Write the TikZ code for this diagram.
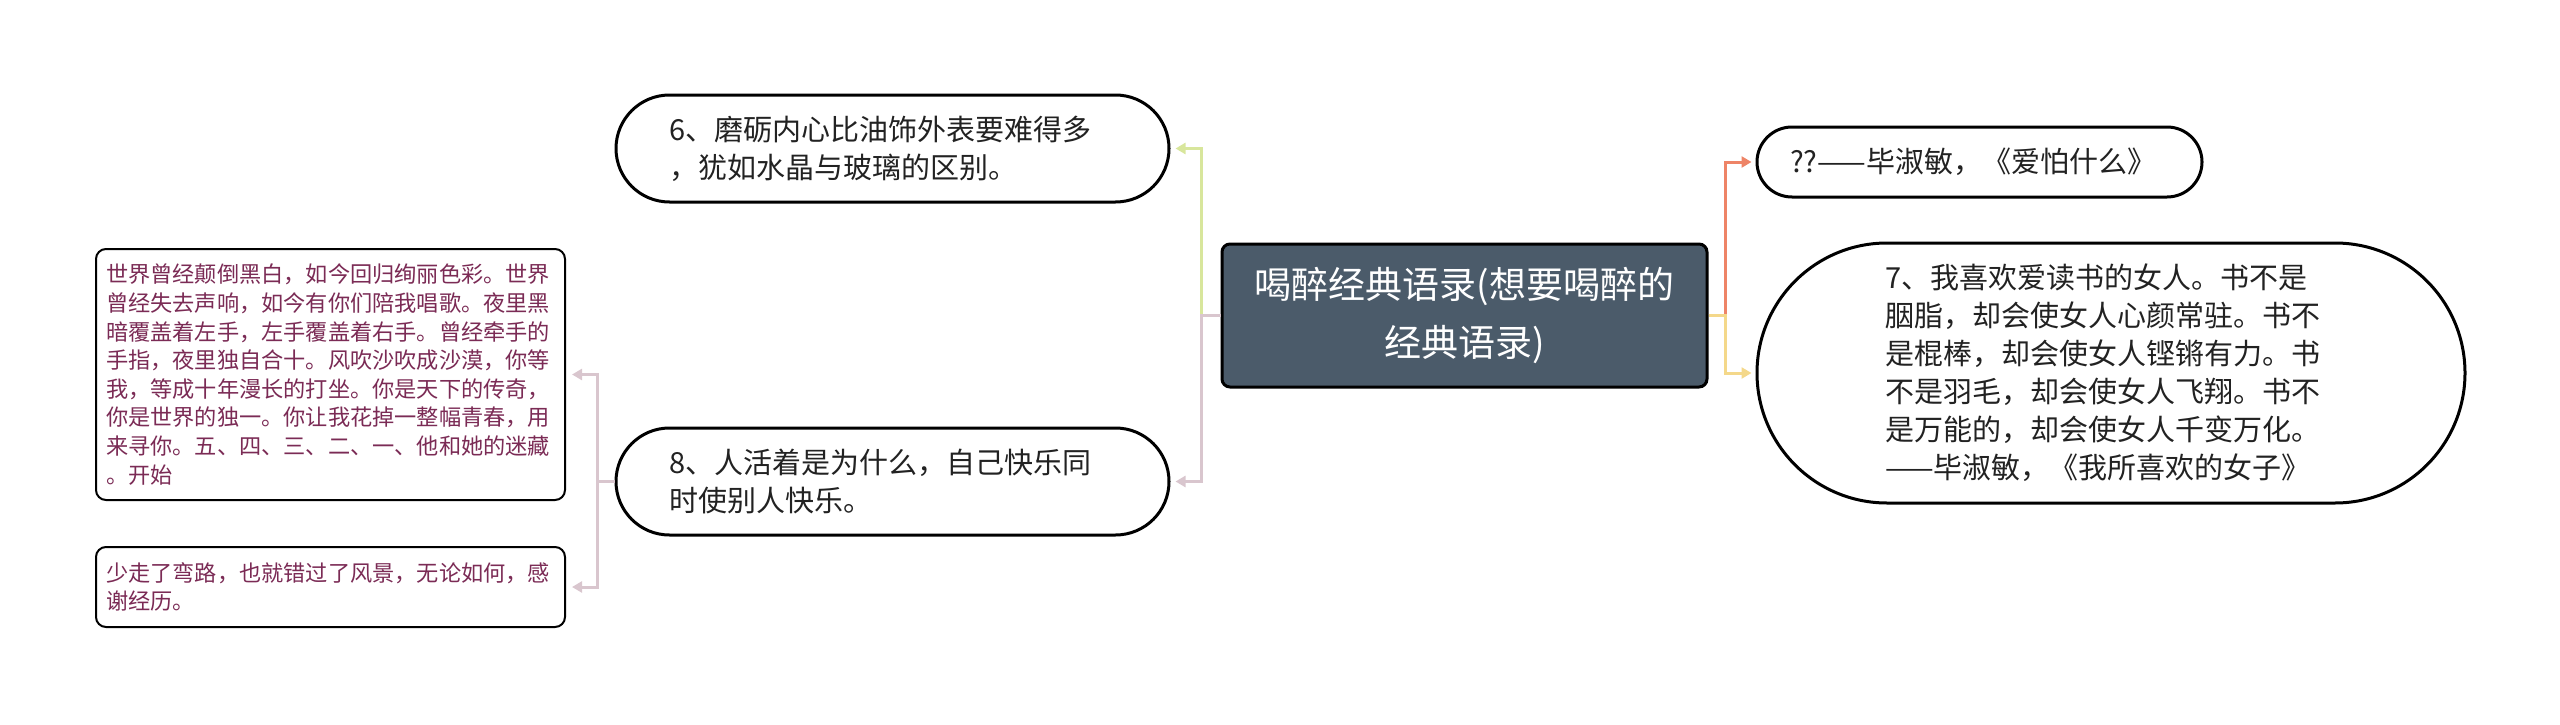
\documentclass[tikz,border=0pt]{standalone}
\usepackage{fontspec}
\newfontfamily\cjk{Noto Sans CJK SC}
\usetikzlibrary{arrows.meta}
\definecolor{centralfill}{HTML}{4B5B6A}
\definecolor{corange}{HTML}{EE8467}
\definecolor{cyellow}{HTML}{F4D88A}
\definecolor{cgreen}{HTML}{D8E69C}
\definecolor{cpink}{HTML}{D9C6CE}
\definecolor{maroon}{HTML}{7B2B55}
\definecolor{textdark}{HTML}{222222}
\begin{document}
\begin{tikzpicture}[x=1pt,y=-1pt,
  bubble/.style={draw=black, line width=3pt, fill=white, text=textdark, align=left,
    inner ysep=0pt, font=\cjk\fontsize{29}{38}\selectfont},
  leafbox/.style={draw=black, line width=2pt, fill=white, text=maroon, align=left,
    rounded corners=10pt, inner ysep=0pt, inner xsep=10pt, text width=449pt,
    minimum width=469pt, font=\cjk\fontsize{22.2}{28.6}\selectfont},
  conn/.style={line width=3pt, -{Triangle[length=10pt,width=11pt]}},
]
\useasboundingbox (0,0) rectangle (2560,725);

% central node
\node[draw=black, line width=3pt, fill=centralfill, rounded corners=8pt,
  minimum width=485pt, minimum height=143pt, text width=470pt, align=center,
  text=white, font=\cjk\fontsize{37}{58}\selectfont] (c) at (1464.5,315.5)
  {喝醉经典语录(想要喝醉的\\经典语录)};

% left-middle bubbles
\node[bubble, rounded corners=53.5pt, minimum width=553pt, minimum height=107pt,
  inner xsep=53pt, text width=447pt] (n6) at (892.5,148.5)
  {6、磨砺内心比油饰外表要难得多\\，犹如水晶与玻璃的区别。};
\node[bubble, rounded corners=53.5pt, minimum width=553pt, minimum height=107pt,
  inner xsep=53pt, text width=447pt] (n8) at (892.5,481.5)
  {8、人活着是为什么，自己快乐同\\时使别人快乐。};

% right bubbles
\node[bubble, rounded corners=35pt, minimum width=445pt, minimum height=70pt,
  inner xsep=33pt, text width=379pt] (nq) at (1979.5,162)
  {??——毕淑敏，《爱怕什么》};
\node[bubble, rounded corners=130pt, minimum width=708pt, minimum height=260pt,
  inner xsep=128pt, text width=452pt] (n7) at (2111,373)
  {7、我喜欢爱读书的女人。书不是\\胭脂，却会使女人心颜常驻。书不\\是棍棒，却会使女人铿锵有力。书\\不是羽毛，却会使女人飞翔。书不\\是万能的，却会使女人千变万化。\\——毕淑敏，《我所喜欢的女子》};

% left leaf boxes
\node[leafbox, minimum height=251pt] (b1) at (330.5,374.5)
  {世界曾经颠倒黑白，如今回归绚丽色彩。世界\\曾经失去声响，如今有你们陪我唱歌。夜里黑\\暗覆盖着左手，左手覆盖着右手。曾经牵手的\\手指，夜里独自合十。风吹沙吹成沙漠，你等\\我，等成十年漫长的打坐。你是天下的传奇，\\你是世界的独一。你让我花掉一整幅青春，用\\来寻你。五、四、三、二、一、他和她的迷藏\\。开始};
\node[leafbox, minimum height=80pt] (b2) at (330.5,587)
  {少走了弯路，也就错过了风景，无论如何，感\\谢经历。};

% connectors
\draw[conn, cgreen, shorten >=5pt] (c.west) -- ++(-19,0) |- (n6.east);
\draw[conn, cpink, shorten >=5pt] (c.west) -- ++(-19,0) |- (n8.east);
\draw[conn, corange, shorten >=4pt] (c.east) -- ++(17,0) |- (nq.west);
\draw[conn, cyellow, shorten >=4pt] (c.east) -- ++(17,0) |- (n7.west);
\draw[conn, cpink, shorten >=6pt] (n8.west) -- ++(-17,0) |- (b1.east);
\draw[conn, cpink, shorten >=6pt] (n8.west) -- ++(-17,0) |- (b2.east);
\end{tikzpicture}
\end{document}
